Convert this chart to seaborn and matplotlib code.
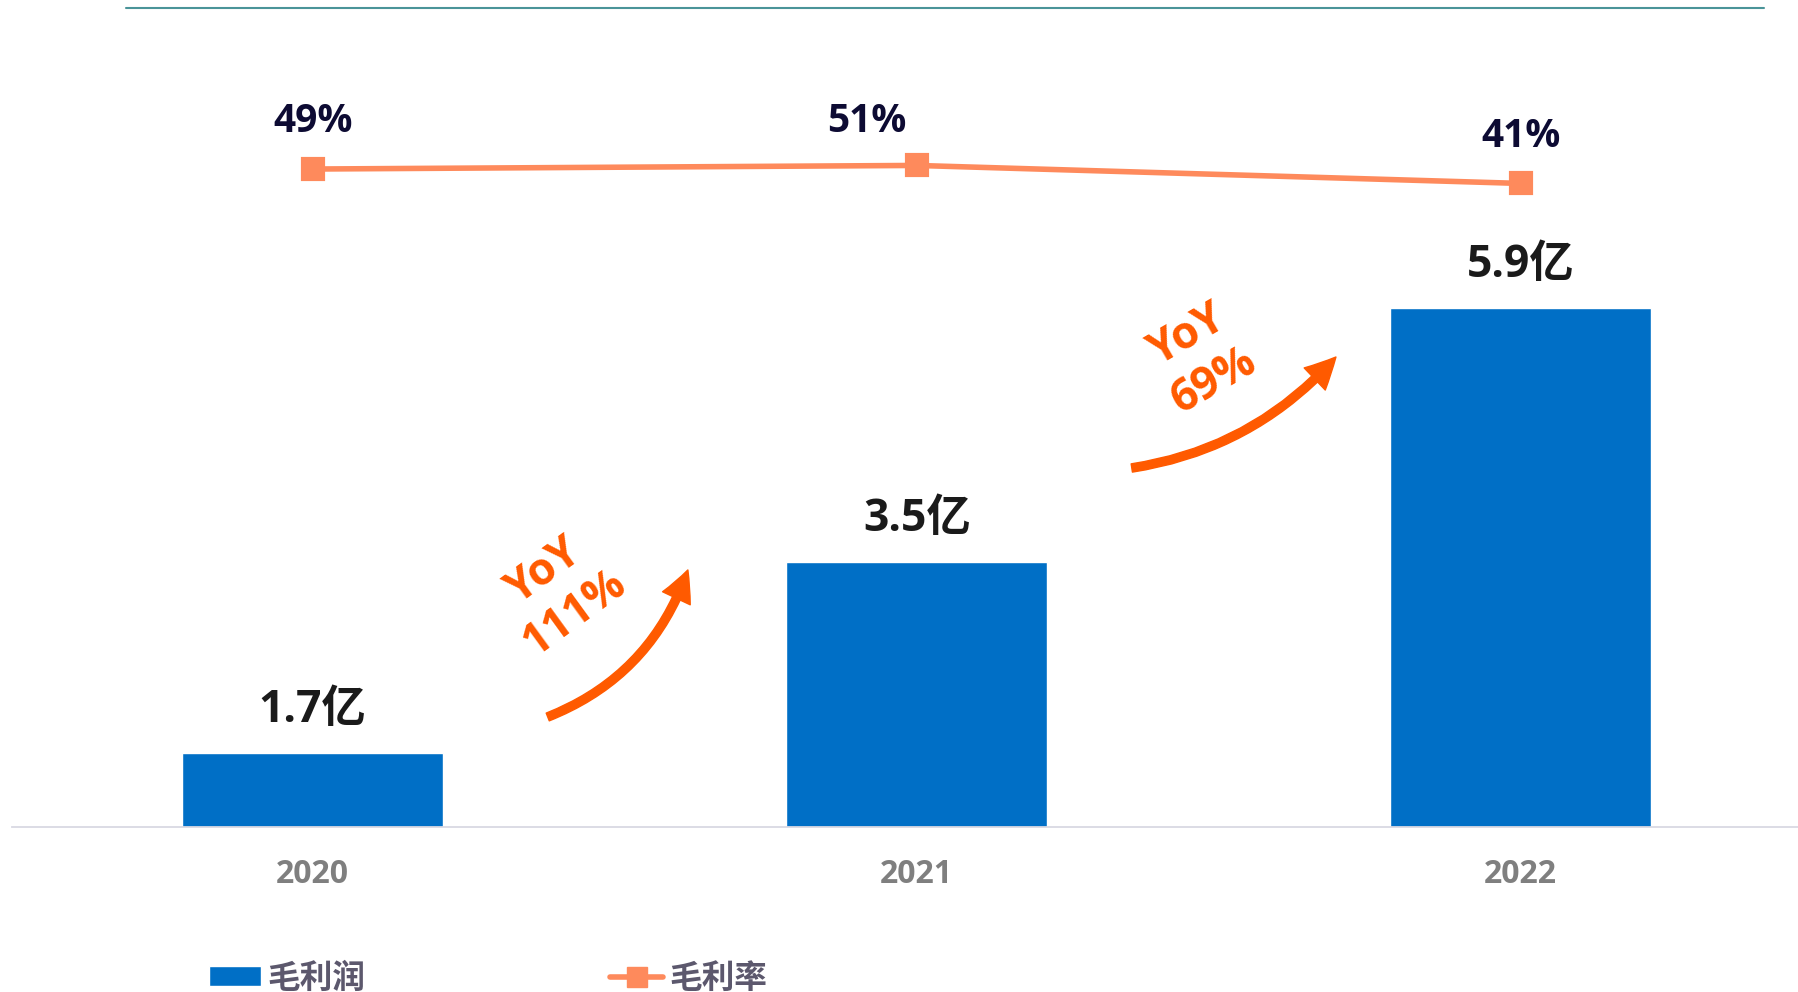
import numpy as np
import pandas as pd
import seaborn as sns
import matplotlib.pyplot as plt
from matplotlib.patches import FancyArrowPatch, Patch
from matplotlib.lines import Line2D

# Data
years = ['2020', '2021', '2022']
gross_profit = [1.7, 3.5, 5.9]          # 毛利润, 亿元
gross_margin = [49, 51, 41]             # 毛利率, %
profit_labels = ['1.7亿', '3.5亿', '5.9亿']
yoy_labels = ['YoY\n111%', 'YoY\n69%']

BAR_COLOR = '#006fc6'
LINE_COLOR = '#fe8a5c'
ARROW_COLOR = '#ff5a00'

sns.set_theme(style='white')
plt.rcParams['font.family'] = ['Open Sans', 'Noto Sans CJK SC', 'DejaVu Sans']

W, H = 1798, 992
fig = plt.figure(figsize=(W / 100, H / 100), dpi=100)
ax = fig.add_axes([12 / W, 165 / H, 1 - 12 / W, 827 / H])

df = pd.DataFrame({'year': years, 'profit': gross_profit, 'margin': gross_margin})

sns.barplot(data=df, x='year', y='profit', color=BAR_COLOR, saturation=1,
            width=0.432, errorbar=None, ax=ax)
ax.set_ylim(1.0, 1.0 + 827 / 106)

ax2 = ax.twinx()
sns.pointplot(data=df, x='year', y='margin', ax=ax2, color=LINE_COLOR,
              markers='s', linestyles='-', errorbar=None,
              markersize=14, linewidth=4)
ax2.set_ylim(-316.5, 142.9)

for a in (ax, ax2):
    a.set_xlim(-0.498, 2.459)
    a.set_xlabel('')
    a.set_ylabel('')
    a.set_yticks([])
    for s in a.spines.values():
        s.set_visible(False)
ax.spines['bottom'].set_visible(True)
ax.spines['bottom'].set_color('#d9d9e3')
ax.spines['bottom'].set_linewidth(1.3)

ax.tick_params(axis='x', length=0, pad=22, labelsize=23, labelcolor='#7f7f7f')
for t in ax.get_xticklabels():
    t.set_fontweight('bold')

# Value labels on bars
for i, (v, lbl) in enumerate(zip(gross_profit, profit_labels)):
    ax.annotate(lbl, (i, v), xytext=(0, 22), textcoords='offset points',
                ha='center', va='baseline', fontsize=32, fontweight='bold',
                color='#1a1a1a')

# Margin labels above the line
margin_offsets = [(0, 27), (-36, 24), (0, 26)]
for i, (v, off) in enumerate(zip(gross_margin, margin_offsets)):
    ax2.annotate(f'{v}%', (i, v), xytext=off, textcoords='offset points',
                 ha='center', va='baseline', fontsize=28, fontweight='bold',
                 color='#0d0b33')

# Growth arrows with YoY text
arrows = [((0.389, 2.038), (0.621, 3.425), 0.23),
          ((1.356, 4.387), (1.694, 5.434), 0.18)]
for (p0, p1, rad) in arrows:
    arr = FancyArrowPatch(p0, p1, connectionstyle=f'arc3,rad={rad}',
                          arrowstyle='simple,head_length=22,head_width=22,tail_width=6',
                          mutation_scale=1, color=ARROW_COLOR,
                          shrinkA=0, shrinkB=0, transform=ax.transData, zorder=5)
    ax.add_patch(arr)

yoy_pos = [((0.408, 3.21), 36), ((1.470, 5.42), 30)]
for lbl, ((x, y), rot) in zip(yoy_labels, yoy_pos):
    ax.text(x, y, lbl, rotation=rot, rotation_mode='anchor', ha='center',
            va='center', multialignment='center', fontsize=32,
            fontweight='bold', color=ARROW_COLOR, linespacing=1.2)

# Legend
handles = [Patch(facecolor=BAR_COLOR, label='毛利润'),
           Line2D([], [], color=LINE_COLOR, lw=4, marker='s', markersize=14,
                  label='毛利率')]
leg = fig.legend(handles=handles, loc='center left',
                 bbox_to_anchor=(209 / W, 14 / H), ncol=2, frameon=False,
                 prop={'size': 23.5, 'weight': 'bold',
                       'family': ['Noto Sans CJK SC', 'DejaVu Sans']},
                 handlelength=1.6, handleheight=0.6, handletextpad=0.2,
                 columnspacing=7.5, borderpad=0, borderaxespad=0, numpoints=1)
for t in leg.get_texts():
    t.set_color('#5c586d')

# Top rule
fig.add_artist(Line2D([126 / W, 1764 / W], [1 - 8 / H, 1 - 8 / H],
                      transform=fig.transFigure, color='#4a9499', lw=1.5))

fig.savefig('out.png', dpi=100)
